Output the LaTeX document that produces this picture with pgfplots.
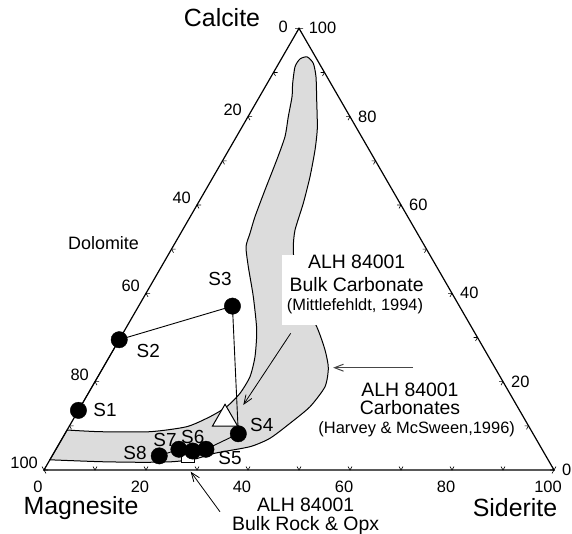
\documentclass[border=0pt]{standalone}
\usepackage{pgfplots}
\pgfplotsset{compat=1.18}
\usepackage{pgfplotstable}
\usepackage{fontspec}
\setmainfont{Liberation Sans}
\usetikzlibrary{arrows.meta}
\definecolor{regiongray}{RGB}{220,220,220}
\definecolor{arrowgray}{RGB}{70,70,70}
\newcommand\bigf{\fontsize{25}{30}\selectfont}
\newcommand\midf{\fontsize{19.5}{23}\selectfont}
\newcommand\slab{\fontsize{19}{23}\selectfont}
\newcommand\smallf{\fontsize{16.5}{20}\selectfont}

% sample compositions (mol% CaCO3, FeCO3; rest MgCO3)
\pgfplotstableread{
name Ca Fe
S1 13.5 0.0
S2 29.5 0.0
S3 37.1 18.4
S4 8.2 34.0
S5 4.7 29.4
S6 4.3 27.0
S7 4.7 24.1
S8 3.2 21.0
}\samples
\pgfplotstableread{
Ca Fe
11.6 29.7
}\bulkcarb
\pgfplotstableread{
Ca Fe
3.1 26.7
}\bulkrock
% outline of ALH 84001 carbonate field (cartesian ternary coordinates)
\pgfplotstableread{
X Y
1.15 2.0
10.98 1.63
19.41 1.51
25.29 1.63
29.6 2.16
33.7 3.33
40.39 4.57
44.31 6.22
48.24 9.16
52.16 12.41
55.1 16.33
55.75 20.0
55.1 23.53
53.47 28.1
50.2 33.98
49.08 40.53
48.88 43.78
49.22 47.06
50.84 52.29
52.16 57.51
53.14 62.75
53.59 67.0
53.47 72.55
53.33 77.12
52.8 79.75
51.6 81.0
50.2 80.6
49.22 79.08
48.76 75.82
48.63 73.2
47.9 69.27
47.25 65.35
45.63 60.78
43.33 54.9
41.37 49.67
40.39 46.41
39.61 43.78
40.06 39.86
41.04 33.98
41.71 27.45
41.37 22.22
40.39 18.29
38.43 15.04
35.82 12.41
32.55 10.45
27.98 8.49
20.78 7.51
10.98 7.51
4.53 7.84
}\region

\begin{document}
\begin{tikzpicture}
\useasboundingbox (-44bp,-64bp) rectangle (528bp,470bp);
\begin{axis}[at={(0,0)}, anchor=south west, x=5.1bp, y=5.1bp,
  xmin=0, xmax=100, ymin=0, ymax=86.6025, hide axis, clip=false]

% carbonate field
\addplot[fill=regiongray, draw=black, line width=1bp, smooth, tension=0.4]
  table[x=X, y=Y] {\region} -- cycle;

% white box behind label
\fill[white] (axis cs:46.6,28.4) rectangle (axis cs:75.1,42.2);

% triangle frame
\addplot[black, line width=1.2bp] coordinates {(0,0) (100,0) (50,86.6025)} -- cycle;

% ticks
\pgfplotsinvokeforeach{0,10,...,100}{
  \draw[line width=0.6bp] ([shift={(120:4bp)}]axis cs:#1,0) -- (axis cs:#1,0) -- ([shift={(60:4bp)}]axis cs:#1,0);
  \draw[line width=0.6bp] ([shift={(0:4bp)}]axis cs:{#1*0.5},{#1*0.8660254}) -- (axis cs:{#1*0.5},{#1*0.8660254}) -- ([shift={(-60:4bp)}]axis cs:{#1*0.5},{#1*0.8660254});
  \draw[line width=0.6bp] ([shift={(180:4bp)}]axis cs:{100-#1*0.5},{#1*0.8660254}) -- (axis cs:{100-#1*0.5},{#1*0.8660254}) -- ([shift={(-120:4bp)}]axis cs:{100-#1*0.5},{#1*0.8660254});
}

% bottom tick labels (Siderite)
\pgfplotsinvokeforeach{0,20,...,100}{
  \node[font=\smallf, inner sep=0pt] at ([shift={(-6bp,-16.7bp)}]axis cs:#1,0) {#1};
}
% left tick labels (Magnesite)
\node[font=\smallf, inner sep=0pt, anchor=east] at ([shift={(-6bp,7bp)}]axis cs:0,0) {100};
\node[font=\smallf, inner sep=0pt, anchor=east] at ([shift={(-6bp,7bp)}]axis cs:10,17.3205) {80};
\node[font=\smallf, inner sep=0pt, anchor=east] at ([shift={(-6bp,7bp)}]axis cs:20,34.641) {60};
\node[font=\smallf, inner sep=0pt, anchor=east] at ([shift={(-6bp,7bp)}]axis cs:30,51.9615) {40};
\node[font=\smallf, inner sep=0pt, anchor=east] at ([shift={(-6bp,7bp)}]axis cs:40,69.282) {20};
\node[font=\smallf, inner sep=0pt, anchor=east] at ([shift={(-11bp,1bp)}]axis cs:50,86.6025) {0};
% right tick labels (Calcite)
\node[font=\smallf, inner sep=0pt, anchor=west] at ([shift={(8bp,0bp)}]axis cs:100,0) {0};
\node[font=\smallf, inner sep=0pt, anchor=west] at ([shift={(8bp,0bp)}]axis cs:90,17.3205) {20};
\node[font=\smallf, inner sep=0pt, anchor=west] at ([shift={(8bp,0bp)}]axis cs:80,34.641) {40};
\node[font=\smallf, inner sep=0pt, anchor=west] at ([shift={(8bp,0bp)}]axis cs:70,51.9615) {60};
\node[font=\smallf, inner sep=0pt, anchor=west] at ([shift={(8bp,0bp)}]axis cs:60,69.282) {80};
\node[font=\smallf, inner sep=0pt, anchor=west] at ([shift={(9.6bp,0bp)}]axis cs:50,86.6025) {100};

% arrows
\draw[line width=0.8bp, -{Straight Barb[length=9bp,width=7bp]}] (axis cs:48.37,26.8) -- (axis cs:39.08,12.75);
\draw[arrowgray, line width=1bp, -{Straight Barb[length=9bp,width=7bp]}] (axis cs:72.4,20.06) -- (axis cs:56.7,20.06);
\draw[line width=0.8bp, -{Straight Barb[length=9bp,width=7bp]}] (axis cs:34.5,-8.18) -- (axis cs:28.76,-0.33);

% sample path
\addplot[black, line width=0.9bp]
  table[x expr=\thisrow{Fe}+0.5*\thisrow{Ca}, y expr=0.8660254*\thisrow{Ca}] {\samples};
% bulk rock & opx
\addplot[only marks, mark=square*, mark size=6.5bp, mark options={fill=white, draw=black, line width=1bp}]
  table[x expr=\thisrow{Fe}+0.5*\thisrow{Ca}, y expr=0.8660254*\thisrow{Ca}] {\bulkrock};
% samples
\addplot[only marks, mark=*, mark size=8.2bp, black]
  table[x expr=\thisrow{Fe}+0.5*\thisrow{Ca}, y expr=0.8660254*\thisrow{Ca}] {\samples};
% bulk carbonate
\addplot[only marks, mark=triangle*, mark size=14.5bp, mark options={fill=white, draw=black, line width=1bp}]
  table[x expr=\thisrow{Fe}+0.5*\thisrow{Ca}, y expr=0.8660254*\thisrow{Ca}] {\bulkcarb};

% vertex labels
\node[font=\bigf] at (axis cs:34.9,88.8) {Calcite};
\node[font=\bigf] at (axis cs:7.25,-7.45) {Magnesite};
\node[font=\bigf] at (axis cs:92.35,-7.45) {Siderite};
\node[font=\fontsize{18}{22}\selectfont] at (axis cs:11.67,44.5) {Dolomite};

% sample labels
\node[font=\slab] at (axis cs:11.96,11.76) {S1};
\node[font=\slab] at (axis cs:20.45,23.33) {S2};
\node[font=\slab] at (axis cs:34.51,37.39) {S3};
\node[font=\slab] at (axis cs:42.69,8.82) {S4};
\node[font=\slab] at (axis cs:36.47,2.29) {S5};
\node[font=\slab] at (axis cs:29.16,6.53) {S6};
\node[font=\slab] at (axis cs:23.73,5.88) {S7};
\node[font=\slab] at (axis cs:17.84,3.27) {S8};

% annotations
\node[font=\midf] at (axis cs:61.31,40.84) {ALH 84001};
\node[font=\midf] at (axis cs:61.31,36.27) {Bulk Carbonate};
\node[font=\smallf] at (axis cs:60.98,32.02) {(Mittlefehldt, 1994)};

\node[font=\midf] at (axis cs:71.76,15.82) {ALH 84001};
\node[font=\midf] at (axis cs:71.76,12.22) {Carbonates};
\node[font=\smallf] at (axis cs:73.08,7.98) {(Harvey \& McSween,1996)};

\node[font=\fontsize{19.5}{18.5}\selectfont, align=center, inner sep=0pt, anchor=north]
  at (axis cs:51.3,-5.5) {ALH 84001\\Bulk Rock \& Opx};
\end{axis}
\end{tikzpicture}
\end{document}
